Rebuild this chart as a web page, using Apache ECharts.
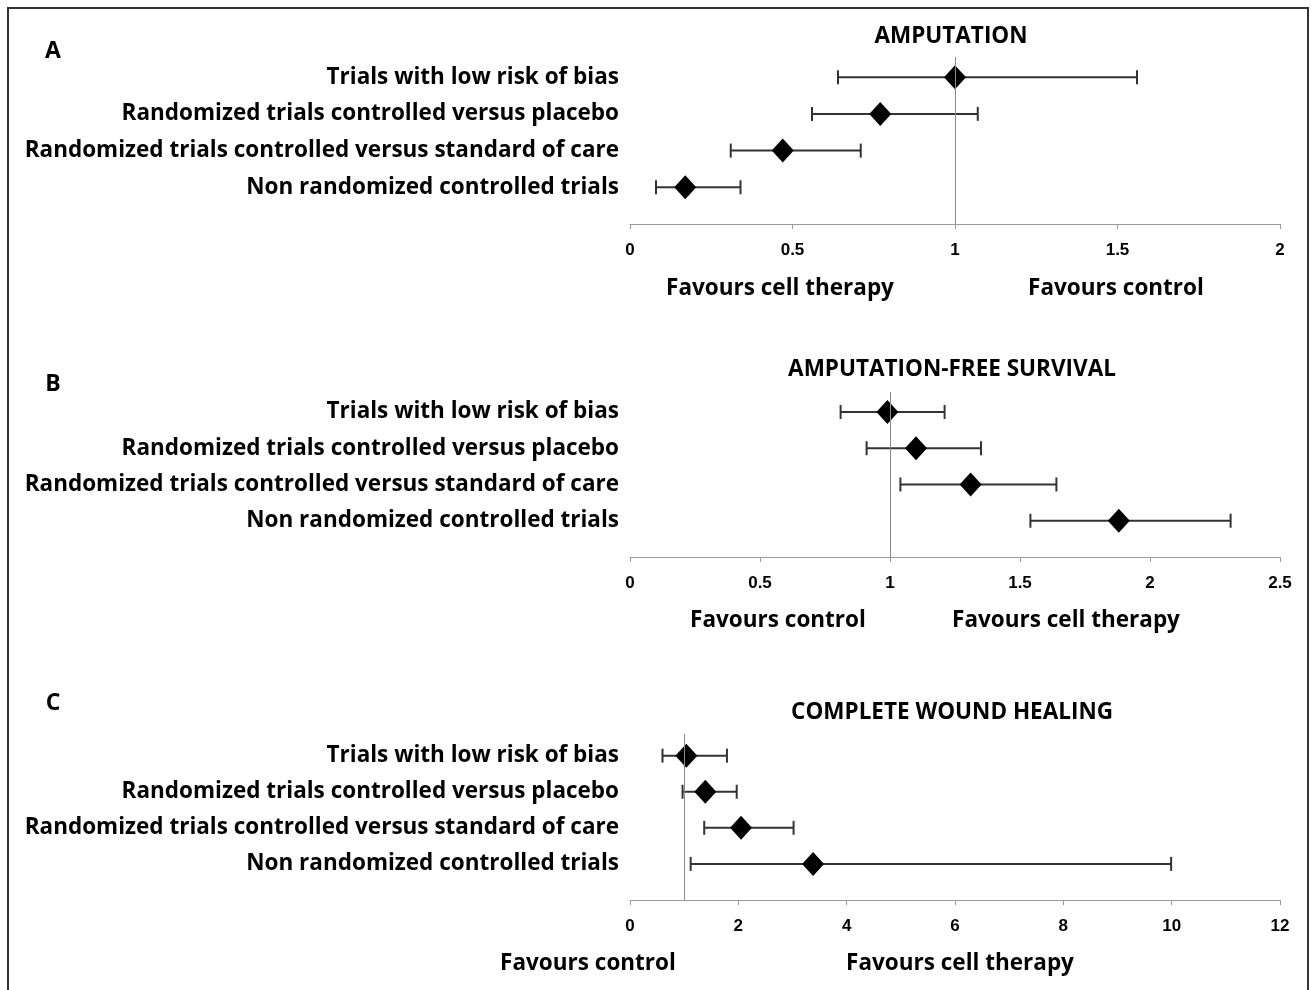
<!DOCTYPE html>
<html>
<head>
<meta charset="utf-8">
<title>Cell therapy outcomes by trial type</title>
<script src="https://cdn.jsdelivr.net/npm/echarts@6/dist/echarts.min.js"></script>
<style>
  html, body { margin: 0; padding: 0; background: #fff; }
  #chart { width: 1311px; height: 990px; }
</style>
</head>
<body>
<div id="chart"></div>
<script>
// Trial groups, listed bottom to top (row 1 = lowest row)
const categories = [
  'Non randomized controlled trials',
  'Randomized trials controlled versus standard of care',
  'Randomized trials controlled versus placebo',
  'Trials with low risk of bias'
];

// A: amputation (estimate with lower / upper confidence limits)
const ampEst  = [0.17, 0.47, 0.77, 1.00];
const ampLow  = [0.08, 0.31, 0.56, 0.64];
const ampHigh = [0.34, 0.71, 1.07, 1.56];

// B: amputation-free survival
const afsEst  = [1.88, 1.31, 1.10, 0.99];
const afsLow  = [1.54, 1.04, 0.91, 0.81];
const afsHigh = [2.31, 1.64, 1.35, 1.21];

// C: complete wound healing
const cwhEst  = [3.38, 2.05, 1.39, 1.04];
const cwhLow  = [1.12, 1.37, 0.97, 0.60];
const cwhHigh = [9.99, 3.02, 1.97, 1.79];

// Axis tick settings per panel
const axisA = { min: 0, max: 2, interval: 0.5 };
const axisB = { min: 0, max: 2.5, interval: 0.5 };
const axisC = { min: 0, max: 12, interval: 2 };

const panelTitles = ['AMPUTATION', 'AMPUTATION-FREE SURVIVAL', 'COMPLETE WOUND HEALING'];
const panelLetters = ['A', 'B', 'C'];
const favoursA = ['Favours cell therapy', 'Favours control'];
const favoursB = ['Favours control', 'Favours cell therapy'];
const favoursC = ['Favours control', 'Favours cell therapy'];

const labelFont = '"Open Sans", "Noto Sans", sans-serif';
const tickFont = '"Liberation Sans Narrow", "Liberation Sans", Arial, sans-serif';

const grids = [
  { left: 630, width: 650, top: 57,  height: 167 },
  { left: 630, width: 650, top: 392, height: 165 },
  { left: 630, width: 650, top: 734, height: 166 }
];
const yMax = [4.55, 4.55, 4.6];
const panels = [
  { est: ampEst, low: ampLow, high: ampHigh, axis: axisA },
  { est: afsEst, low: afsLow, high: afsHigh, axis: axisB },
  { est: cwhEst, low: cwhLow, high: cwhHigh, axis: axisC }
];

const xAxes = panels.map((p, i) => ({
  type: 'value', gridIndex: i,
  min: p.axis.min, max: p.axis.max, interval: p.axis.interval,
  axisLine: { show: true, lineStyle: { color: '#9a9a9a', width: 1 } },
  axisTick: { show: true, length: 5, lineStyle: { color: '#9a9a9a' } },
  splitLine: { show: false },
  axisLabel: { color: '#000', fontFamily: tickFont, fontWeight: 'bold', fontSize: 17, margin: 18 }
}));

const yAxes = panels.map((p, i) => ({
  type: 'value', gridIndex: i,
  min: 0, max: yMax[i], interval: 1,
  axisLine: { show: false }, axisTick: { show: false }, splitLine: { show: false },
  axisLabel: {
    color: '#000', fontFamily: labelFont, fontWeight: 'bold', fontSize: 22.5, margin: 11,
    padding: [3, 0, 0, 0],
    showMaxLabel: false, showMinLabel: false,
    formatter: v => categories[Math.round(v) - 1] || ''
  }
}));

function errorBar(params, api) {
  const y = api.value(2);
  const lo = api.coord([api.value(0), y]);
  const hi = api.coord([api.value(1), y]);
  const cap = 7;
  const style = { stroke: '#333', lineWidth: 2 };
  return {
    type: 'group',
    children: [
      { type: 'line', shape: { x1: lo[0], y1: lo[1], x2: hi[0], y2: hi[1] }, style },
      { type: 'line', shape: { x1: lo[0], y1: lo[1] - cap, x2: lo[0], y2: lo[1] + cap }, style },
      { type: 'line', shape: { x1: hi[0], y1: hi[1] - cap, x2: hi[0], y2: hi[1] + cap }, style }
    ]
  };
}

const series = [];
panels.forEach((p, i) => {
  series.push({
    type: 'custom', xAxisIndex: i, yAxisIndex: i,
    renderItem: errorBar,
    encode: { x: [0, 1], y: 2 },
    data: p.low.map((lo, k) => [lo, p.high[k], k + 1]),
    z: 2, silent: true
  });
  series.push({
    type: 'scatter', xAxisIndex: i, yAxisIndex: i,
    symbol: 'diamond', symbolSize: [22, 24],
    itemStyle: { color: '#000', opacity: 1 },
    data: p.est.map((e, k) => [e, k + 1]),
    z: 3, silent: true,
    markLine: {
      silent: true, symbol: 'none', animation: false,
      label: { show: false },
      lineStyle: { color: '#8a8a8a', width: 1, type: 'solid' },
      data: [{ xAxis: 1 }]
    }
  });
});

function txt(x, y, text, size, family, align) {
  return {
    type: 'text', x: x, y: y, silent: true,
    style: {
      text: text, fill: '#000', align: align || 'center', verticalAlign: 'middle',
      font: 'bold ' + size + 'px ' + family
    }
  };
}

const graphics = [
  { type: 'rect', shape: { x: 8, y: 8, width: 1300, height: 1000 }, style: { fill: 'none', stroke: '#333', lineWidth: 2 }, silent: true },
  txt(53, 51, panelLetters[0], 23, labelFont),
  txt(53, 384, panelLetters[1], 23, labelFont),
  txt(53, 703, panelLetters[2], 23, labelFont),
  txt(951, 37, panelTitles[0], 22.5, labelFont),
  txt(952, 370, panelTitles[1], 22.5, labelFont),
  txt(952, 713, panelTitles[2], 22.5, labelFont),
  txt(780, 289, favoursA[0], 22.5, labelFont),
  txt(1116, 289, favoursA[1], 22.5, labelFont),
  txt(778, 621, favoursB[0], 22.5, labelFont),
  txt(1066, 621, favoursB[1], 22.5, labelFont),
  txt(588, 964, favoursC[0], 22.5, labelFont),
  txt(960, 964, favoursC[1], 22.5, labelFont)
];

const chart = echarts.init(document.getElementById('chart'), null, { renderer: 'canvas' });
chart.setOption({
  animation: false,
  backgroundColor: '#fff',
  grid: grids,
  xAxis: xAxes,
  yAxis: yAxes,
  series: series,
  graphic: graphics
});
</script>
</body>
</html>
